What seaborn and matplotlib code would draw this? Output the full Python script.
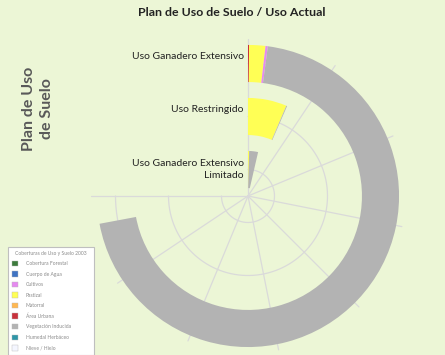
import numpy as np
import matplotlib
matplotlib.use("Agg")
import matplotlib.pyplot as plt
from matplotlib.patches import Patch
import seaborn as sns

# categories, innermost first
categories = ["Uso Ganadero Extensivo\nLimitado", "Uso Restringido", "Uso Ganadero Extensivo"]

# land cover classes in legend order
classes = ["Cobertura Forestal", "Cuerpo de Agua", "Cultivos", "Pastizal", "Matorral",
           "Área Urbana", "Vegetación Inducida", "Humedal Herbáceo", "Nieve / Hielo"]
class_colors = ["#3C7A3C", "#3F73C2", "#E58AF0", "#FFFF55", "#FFB852",
                "#C8323C", "#B3B3B3", "#2E96A8", "#F4F6FF"]

# order the classes are stacked around the ring
stack_order = ["Área Urbana", "Pastizal", "Cultivos", "Vegetación Inducida"]

# hectares per category (innermost first)
area_urbana = [0, 0, 6]
pastizal = [22, 341, 93]
cultivos = [0, 0, 13]
veg_inducida = [170, 7, 3731]

axis_max = 4000      # value reached at 270 degrees
axis_step = 500

values = {"Área Urbana": area_urbana, "Pastizal": pastizal,
          "Cultivos": cultivos, "Vegetación Inducida": veg_inducida}

sns.set_theme(style="white")
plt.rcParams["font.family"] = ["Lato", "DejaVu Sans"]

bg = "#ECF6D6"
fig = plt.figure(figsize=(4.45, 3.55), dpi=100, facecolor=bg)
ax = fig.add_axes([89 / 445, 0, 318 / 445, 318 / 355], projection="polar")
ax.set_facecolor("none")
ax.set_theta_zero_location("N")
ax.set_theta_direction(-1)
ax.set_ylim(0, 3)
ax.grid(False)
ax.spines["polar"].set_visible(False)
ax.set_xticks([])
ax.set_yticks([])


def to_theta(v):
    return np.asarray(v, dtype=float) / axis_max * 1.5 * np.pi


# grid: arcs at category centres, spokes every axis_step
arc = np.linspace(0, 1.5 * np.pi, 300)
r_pos = np.arange(len(categories)) + 0.5
for r in r_pos:
    ax.plot(arc, np.full_like(arc, r), color="#DADADA", lw=0.9, zorder=1)
for t in to_theta(np.arange(0, axis_max + 1, axis_step)):
    ax.plot([t, t], [0, 2.96], color="#DADADA", lw=0.9, zorder=1)

# stacked radial bars
left = np.zeros(len(categories))
for name in stack_order:
    vals = np.array(values[name], dtype=float)
    color = class_colors[classes.index(name)]
    ax.barh(r_pos, to_theta(vals), left=to_theta(left), height=0.7,
            color=color, edgecolor="none", align="center", zorder=2)
    left += vals

# category labels left of the zero spoke
label_dy = [0, 5, 5]
for r, lab, dy in zip(r_pos, categories, label_dy):
    ax.annotate(lab, xy=(0, r), xytext=(-3, dy), textcoords="offset points",
                ha="right", va="center", fontsize=7.5, color="#222222",
                multialignment="right", linespacing=1.45, zorder=3)

fig.text(232 / 445, 1 - 13 / 355, "Plan de Uso de Suelo / Uso Actual",
         ha="center", va="center", fontsize=8.9, fontweight="bold", color="#222222")
fig.text(38 / 445, 1 - 109 / 355, "Plan de Uso\nde Suelo", rotation=90,
         ha="center", va="center", multialignment="center", linespacing=1.3,
         fontsize=11.5, fontweight="bold", color="#595959")

handles = [Patch(facecolor=c, edgecolor="#BBBBBB", linewidth=0.3) for c in class_colors]
leg = fig.legend(handles, classes, title="Coberturas de Uso y Suelo 2003",
                 loc="upper left", bbox_to_anchor=(5 / 445, 0, 91 / 445, 1 - 244 / 355),
                 mode="expand", fontsize=3.6, title_fontsize=3.6, frameon=True,
                 fancybox=False, framealpha=1, edgecolor="#BFBFBF",
                 labelspacing=1.02, handlelength=1.3, handleheight=1.3,
                 handletextpad=1.5, borderpad=0.8, labelcolor="#8A8A8A")
leg.get_title().set_color("#8A8A8A")
leg.get_frame().set_linewidth(0.8)

fig.savefig("out.png", dpi=100, facecolor=bg)
